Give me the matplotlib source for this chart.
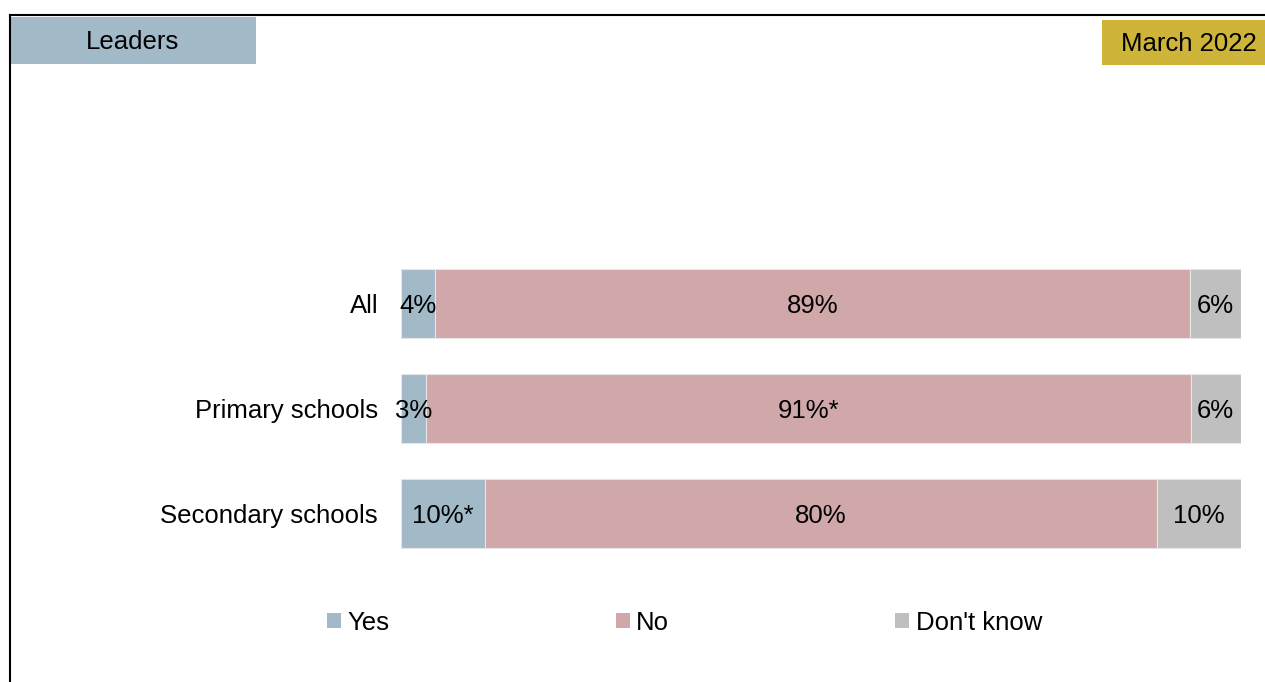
import matplotlib
matplotlib.use("Agg")
import matplotlib.pyplot as plt
from matplotlib.patches import Patch, Rectangle
from matplotlib.lines import Line2D
import numpy as np

plt.rcParams['font.family'] = ['Liberation Sans', 'DejaVu Sans']

categories = ["All", "Primary schools", "Secondary schools"]
series = ["Yes", "No", "Don't know"]
yes_vals = [4, 3, 10]
no_vals = [89, 91, 80]
dk_vals = [6, 6, 10]
yes_labels = ["4%", "3%", "10%*"]
no_labels = ["89%", "91%*", "80%"]
dk_labels = ["6%", "6%", "10%"]

colors = ["#A2B9C8", "#D0A8A9", "#BFBFBF"]
FS = 18.5

W, H = 1265, 682
fig = plt.figure(figsize=(W / 100, H / 100), dpi=100)

# outer frame lines (top and left)
fig.add_artist(Line2D([10 / W, 1.0], [1 - 15 / H, 1 - 15 / H], color="black", lw=1.5,
                      transform=fig.transFigure))
fig.add_artist(Line2D([10 / W, 10 / W], [0, 1 - 15 / H], color="black", lw=1.5,
                      transform=fig.transFigure))

# header boxes
fig.add_artist(Rectangle((11 / W, 1 - 64 / H), 245 / W, 47 / H, facecolor="#A2B9C8",
                         edgecolor="none", transform=fig.transFigure))
fig.text(133 / W, 1 - 42 / H, "Leaders", ha="center", va="center", fontsize=FS)
fig.add_artist(Rectangle((1102 / W, 1 - 65 / H), 163 / W, 45 / H, facecolor="#CEB53A",
                         edgecolor="none", transform=fig.transFigure))
fig.text(1189 / W, 1 - 44 / H, "March 2022", ha="center", va="center", fontsize=FS)

ax = fig.add_axes([401 / W, 1 - 566 / H, 840 / W, 315 / H])

vals = np.array([yes_vals, no_vals, dk_vals], dtype=float)
totals = vals.sum(axis=0)
shares = vals / totals * 100
labels = [yes_labels, no_labels, dk_labels]

y = np.arange(len(categories))
left = np.zeros(len(categories))
for i, name in enumerate(series):
    bars = ax.barh(y, shares[i], left=left, height=0.657, color=colors[i],
                   edgecolor="#E6E6E6", linewidth=0.8, label=name)
    for j, b in enumerate(bars):
        cx = left[j] + shares[i][j] / 2
        ax.annotate(labels[i][j], (cx, y[j]), xytext=(0, -1.5), textcoords="offset points",
                    ha="center", va="center", fontsize=FS)
    left += shares[i]

ax.set_xlim(0, 100)
ax.set_ylim(2.5, -0.5)
ax.set_yticks(y)
ax.set_yticklabels(categories, fontsize=FS)
ax.tick_params(axis="y", length=0, pad=16.5)
ax.set_xticks([])
for s in ax.spines.values():
    s.set_visible(False)

handles = [Patch(facecolor=c, edgecolor="none") for c in colors]
fig.legend(handles, series, loc="center left", bbox_to_anchor=(327 / W, 1 - 622.5 / H),
           ncol=3, frameon=False, fontsize=FS, handlelength=0.55, handleheight=0.55,
           handletextpad=0.25, columnspacing=8.8, borderpad=0, borderaxespad=0)

fig.savefig("out.png", dpi=100)
